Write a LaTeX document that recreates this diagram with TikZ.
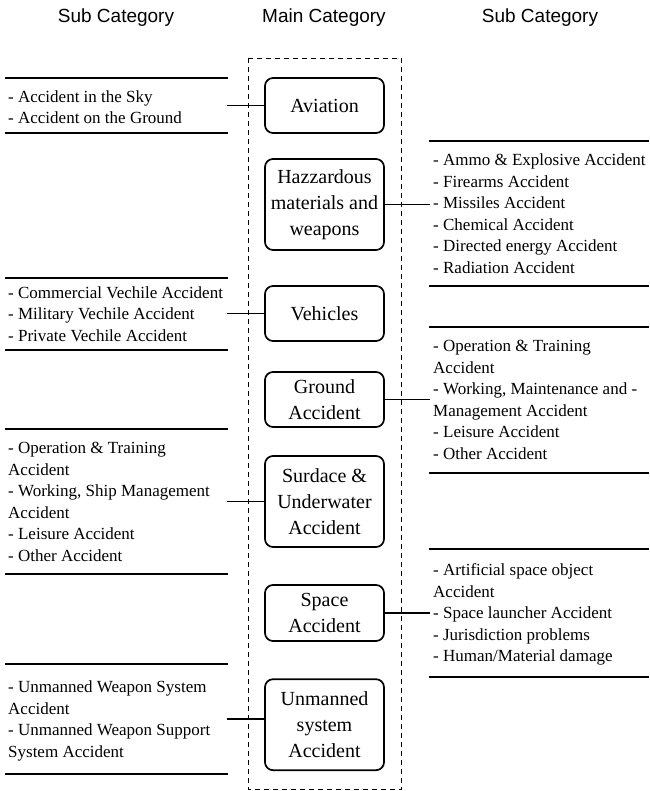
\documentclass[tikz,border=0pt]{standalone}
\usepackage{fontspec}
\setmainfont{Liberation Serif}
\newfontfamily\hdrfont{Liberation Sans}
\begin{document}
\begin{tikzpicture}[x=1pt,y=-1pt,
  hdr/.style={font=\hdrfont\fontsize{19}{23}\selectfont, inner sep=0pt},
  mainbox/.style={draw, line width=1.7pt, rounded corners=8pt, minimum width=119pt, inner sep=0pt, align=center, font=\fontsize{20}{26}\selectfont},
  subtext/.style={anchor=base west, inner sep=0pt, align=left, font=\fontsize{17}{21.6}\selectfont},
  sepline/.style={line width=1.7pt},
  conn/.style={line width=1.7pt},
  frame/.style={line width=1.5pt, dash pattern=on 5pt off 4pt}
]
\useasboundingbox (0,0) rectangle (649,791);

% headers
\node[hdr] (h1) at (116,18) {Sub Category};
\node[hdr] (h2) at (324,18) {Main Category};
\node[hdr] (h3) at (540,18) {Sub Category};

% dashed frame
\draw[frame] (248.3,58.3) rectangle (401.7,789.3);

% main boxes
\node[mainbox, minimum height=55pt] (av) at (324.5,105.5) {Aviation};
\node[mainbox, minimum height=91pt] (hz) at (324.5,204.5) {Hazzardous\\materials and\\weapons};
\node[mainbox, minimum height=55pt] (ve) at (324.5,313.5) {Vehicles};
\node[mainbox, minimum height=55pt] (gr) at (324.5,399.5) {Ground\\Accident};
\node[mainbox, minimum height=91pt] (su) at (324.5,501.5) {Surdace \&\\Underwater\\Accident};
\node[mainbox, minimum height=56pt] (sp) at (324.5,613) {Space\\Accident};
\node[mainbox, minimum height=91pt] (un) at (324.5,724.7) {Unmanned\\system\\Accident};

% left separator lines
\draw[sepline] (5,77.7) -- (228,77.7);
\draw[sepline] (5,132.7) -- (228,132.7);
\draw[sepline] (5,277.7) -- (228,277.7);
\draw[sepline] (5,350) -- (228,350);
\draw[sepline] (5,429.3) -- (228,429.3);
\draw[sepline] (5,574) -- (228,574);
\draw[sepline] (5,664) -- (228,664);
\draw[sepline] (5,774.3) -- (228,774.3);

% right separator lines
\draw[sepline] (429,140.7) -- (649,140.7);
\draw[sepline] (429,285.7) -- (649,285.7);
\draw[sepline] (429,326.7) -- (649,326.7);
\draw[sepline] (429,472.7) -- (649,472.7);
\draw[sepline] (429,549) -- (649,549);
\draw[sepline] (429,677) -- (649,677);

% left texts (anchored at the baseline of the last line)
\node[subtext] (t1) at (8,123.8) {- Accident in the Sky\\- Accident on the Ground};
\node[subtext] (t2) at (8,341.4) {- Commercial Vechile Accident\\- Military Vechile Accident\\- Private Vechile Accident};
\node[subtext] (t3) at (8,561.5) {- Operation \& Training\\Accident\\- Working, Ship Management\\Accident\\- Leisure Accident\\- Other Accident};
\node[subtext] (t4) at (8,757.3) {- Unmanned Weapon System\\Accident\\- Unmanned Weapon Support\\System Accident};

% right texts
\node[subtext] (r1) at (433,273.5) {- Ammo \& Explosive Accident\\- Firearms Accident\\- Missiles Accident\\- Chemical Accident\\- Directed energy Accident\\- Radiation Accident};
\node[subtext] (r2) at (433,459.5) {- Operation \& Training\\Accident\\- Working, Maintenance and -\\Management Accident\\- Leisure Accident\\- Other Accident};
\node[subtext] (r3) at (433,661.9) {- Artificial space object\\Accident\\- Space launcher Accident\\- Jurisdiction problems\\- Human/Material damage};

% connectors
\path (av.west) ++(-37,0) coordinate (c1);
\draw[conn] (av.west) -- (c1);
\path (ve.west) ++(-37,0) coordinate (c2);
\draw[conn] (ve.west) -- (c2);
\path (su.west) ++(-37,0) coordinate (c3);
\draw[conn] (su.west) -- (c3);
\path ([yshift=5.5pt]un.west) ++(-37,0) coordinate (c4);
\draw[conn] ([yshift=5.5pt]un.west) -- (c4);
\path (hz.east) ++(45,0) coordinate (d1);
\draw[conn] (hz.east) -- (d1);
\path (gr.east) ++(45,0) coordinate (d2);
\draw[conn] (gr.east) -- (d2);
\path (sp.east) ++(45,0) coordinate (d3);
\draw[conn] (sp.east) -- (d3);
\end{tikzpicture}
\end{document}
